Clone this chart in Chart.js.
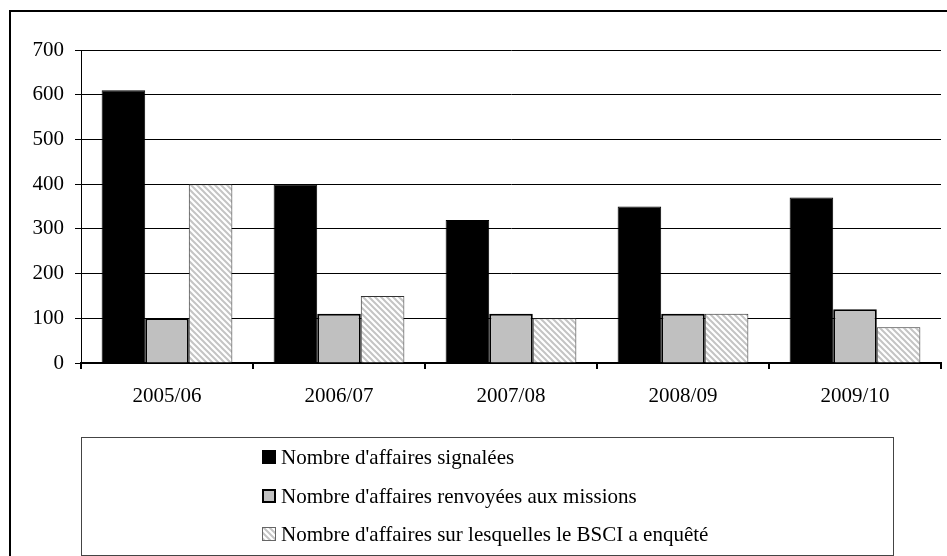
<!DOCTYPE html>
<html>
<head>
<meta charset="utf-8">
<script src="https://cdn.jsdelivr.net/npm/chart.js@4"></script>
<style>
  body { margin: 0; background: #fff; }
  canvas { display: block; }
</style>
</head>
<body>
<canvas id="myChart" width="947" height="556"></canvas>
<script>
// 데이터
const categories = ['2005/06', '2006/07', '2007/08', '2008/09', '2009/10'];
const signalees = [610, 400, 320, 350, 370];
const renvoyees = [100, 110, 110, 110, 120];
const enquetees = [400, 150, 100, 110, 80];
const seriesNames = [
  "Nombre d'affaires signalées",
  "Nombre d'affaires renvoyées aux missions",
  "Nombre d'affaires sur lesquelles le BSCI a enquêté"
];

const FONT = 'Liberation Serif, Times New Roman, serif';

// 빗금 패턴 만들기
function makeHatch() {
  const c = document.createElement('canvas');
  c.width = 6; c.height = 6;
  const g = c.getContext('2d');
  g.fillStyle = '#fff';
  g.fillRect(0, 0, 6, 6);
  g.strokeStyle = '#c4c4c4';
  g.lineWidth = 2;
  g.beginPath();
  g.moveTo(-3, -3); g.lineTo(9, 9);
  g.moveTo(-3, 3); g.lineTo(3, 9);
  g.moveTo(3, -3); g.lineTo(9, 3);
  g.stroke();
  return g.createPattern(c, 'repeat');
}
const hatch = makeHatch();

// 바깥 테두리 + 범례 상자
const framePlugin = {
  id: 'frame',
  beforeDraw(chart) {
    const c = chart.ctx;
    c.save();
    c.fillStyle = '#fff';
    c.fillRect(0, 0, chart.width, chart.height);
    c.strokeStyle = '#000';
    c.lineWidth = 2;
    c.strokeRect(10, 11, 1000, 1000);
    c.restore();
  },
  afterDraw(chart) {
    const c = chart.ctx;
    c.save();
    c.strokeStyle = '#444';
    c.lineWidth = 1;
    c.strokeRect(81.5, 437.5, 812, 118);
    const ys = [457, 496, 534];
    chart.data.datasets.forEach((ds, i) => {
      const y = ys[i];
      if (i === 0) {
        c.fillStyle = '#000';
        c.fillRect(262, y - 7, 14, 14);
      } else if (i === 1) {
        c.fillStyle = '#c0c0c0';
        c.fillRect(263, y - 6, 12, 12);
        c.strokeStyle = '#000';
        c.lineWidth = 2;
        c.strokeRect(263, y - 6, 12, 12);
      } else {
        c.fillStyle = hatch;
        c.fillRect(262, y - 7, 14, 14);
        c.strokeStyle = '#666';
        c.lineWidth = 1;
        c.strokeRect(262.5, y - 6.5, 13, 13);
      }
      c.fillStyle = '#000';
      c.font = '21px ' + FONT;
      c.textBaseline = 'middle';
      c.textAlign = 'left';
      c.fillText(ds.label, 281, y + 1);
    });
    c.restore();
  }
};

let ctx = document.getElementById('myChart');

let config = {
  type: 'bar',
  data: {
    labels: categories,
    datasets: [
      {
        label: seriesNames[0],
        data: signalees,
        backgroundColor: '#000',
        borderColor: '#000',
        borderWidth: 1
      },
      {
        label: seriesNames[1],
        data: renvoyees,
        backgroundColor: '#c0c0c0',
        borderColor: '#000',
        borderWidth: 2
      },
      {
        label: seriesNames[2],
        data: enquetees,
        backgroundColor: hatch,
        borderColor: '#333',
        borderWidth: 1
      }
    ]
  },
  options: {
    responsive: false,
    animation: false,
    categoryPercentage: 0.76,
    barPercentage: 1,
    layout: { padding: { top: 50, right: 6, bottom: 143, left: 0 } },
    plugins: {
      legend: { display: false },
      tooltip: { enabled: false }
    },
    scales: {
      x: {
        afterFit(s) { s.height = 50; },
        grid: { drawOnChartArea: false, color: '#000', tickLength: 6, lineWidth: 2 },
        border: { color: '#000', width: 2 },
        ticks: { color: '#000', padding: 15, font: { family: FONT, size: 21 } }
      },
      y: {
        min: 0,
        max: 700,
        afterFit(s) { s.width = 81; },
        ticks: { stepSize: 100, color: '#000', padding: 11, font: { family: FONT, size: 21 } },
        grid: { color: '#000', lineWidth: 1, tickLength: 6 },
        border: { color: '#000', width: 1 }
      }
    }
  },
  plugins: [framePlugin]
};

let myChart = new Chart(ctx, config);
</script>
</body>
</html>
